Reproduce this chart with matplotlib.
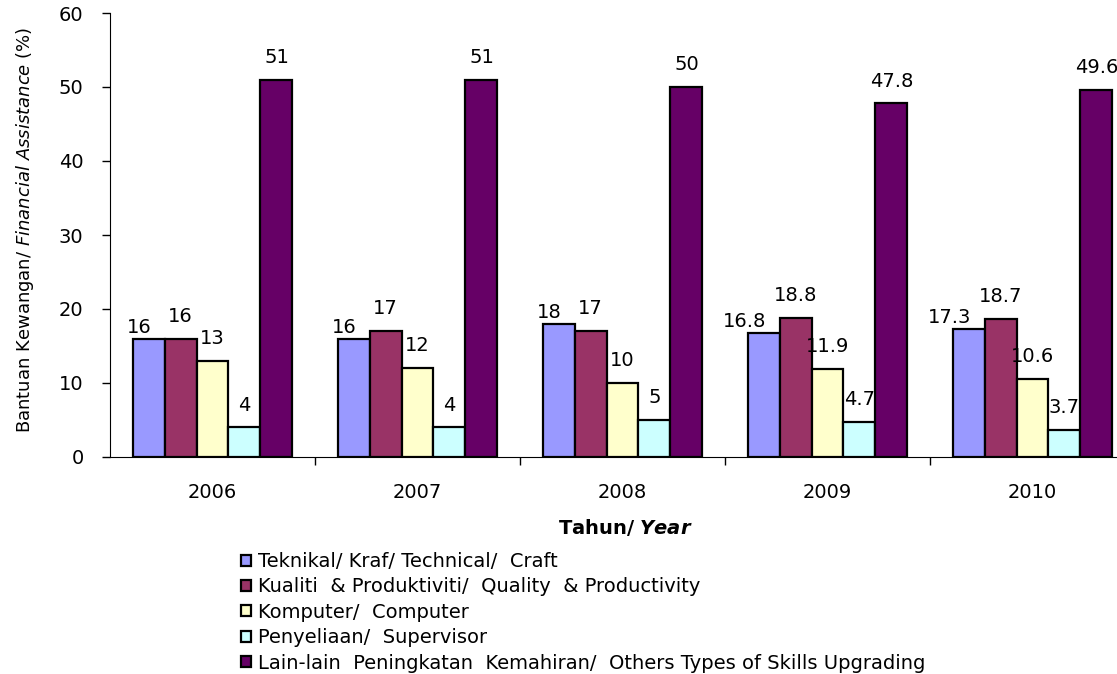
import matplotlib
matplotlib.use("Agg")
import matplotlib.pyplot as plt
import numpy as np

plt.rcParams['font.family'] = ['DejaVu Sans']
plt.rcParams['mathtext.fontset'] = 'custom'
plt.rcParams['mathtext.rm'] = 'DejaVu Sans'
plt.rcParams['mathtext.it'] = 'DejaVu Sans:italic'
plt.rcParams['mathtext.bf'] = 'DejaVu Sans:bold'
plt.rcParams['mathtext.bfit'] = 'DejaVu Sans:bold:italic'

# data
years = ['2006', '2007', '2008', '2009', '2010']
series_names = [
    'Teknikal/ Kraf/ Technical/  Craft',
    'Kualiti  & Produktiviti/  Quality  & Productivity',
    'Komputer/  Computer',
    'Penyeliaan/  Supervisor',
    'Lain-lain  Peningkatan  Kemahiran/  Others Types of Skills Upgrading',
]
technical = [16, 16, 18, 16.8, 17.3]
quality = [16, 17, 17, 18.8, 18.7]
computer = [13, 12, 10, 11.9, 10.6]
supervisor = [4, 4, 5, 4.7, 3.7]
others = [51, 51, 50, 47.8, 49.6]
label_text = [
    ['16', '16', '18', '16.8', '17.3'],
    ['16', '17', '17', '18.8', '18.7'],
    ['13', '12', '10', '11.9', '10.6'],
    ['4', '4', '5', '4.7', '3.7'],
    ['51', '51', '50', '47.8', '49.6'],
]
colors = ['#9999FF', '#993366', '#FFFFCC', '#CCFFFF', '#660066']

fig = plt.figure(figsize=(11.17, 6.74), dpi=100)
ax = fig.add_axes([110/1117, 1 - 457/674, 1025/1117, 444/674])

x = np.arange(len(years))
w = 0.156
all_series = [technical, quality, computer, supervisor, others]
for i, vals in enumerate(all_series):
    pos = x + (i - 2) * w
    ax.bar(pos, vals, width=w, color=colors[i], edgecolor='black',
           linewidth=1.6, label=series_names[i], zorder=2)
    for j, v in enumerate(vals):
        if i == 0:
            # first series labels sit left of the bar centre
            ax.annotate(label_text[i][j], (pos[j], v), xytext=(2, 8),
                        textcoords='offset points', ha='right', va='center',
                        fontsize=14)
        else:
            ax.annotate(label_text[i][j], (pos[j], v), xytext=(0, 16),
                        textcoords='offset points', ha='center', va='center',
                        fontsize=14)

ax.set_xlim(-0.5, 4.5)
ax.set_ylim(0, 60)
ax.set_yticks(range(0, 61, 10))
ax.tick_params(axis='y', labelsize=14, length=6, width=1, direction='out',
               pad=13)

# category separators as major ticks, year labels as minor ticks
ax.set_xticks([0.5, 1.5, 2.5, 3.5])
ax.set_xticklabels([])
ax.set_xticks(x, minor=True)
ax.set_xticklabels(years, minor=True)
ax.tick_params(axis='x', which='major', length=6, width=1, direction='out')
ax.tick_params(axis='x', which='minor', length=0, labelsize=14, pad=19)

ax.spines['top'].set_visible(False)
ax.spines['right'].set_visible(False)

fig.text(25/1117, 1 - 230/674,
         r'Bantuan Kewangan/ $\mathit{Financial\ Assistance}$ (%)',
         rotation=90, ha='center', va='center', fontsize=13)
fig.text(625/1117, 1 - 527/674, r'$\mathbf{Tahun/\ }\mathbfit{Year}$',
         ha='center', va='center', fontsize=14)

fig.legend(loc='upper left', bbox_to_anchor=(241/1117, 1 - 552/674),
           frameon=False, fontsize=14, handlelength=0.5, handleheight=0.5,
           handletextpad=0.4, labelspacing=0.33, borderpad=0, borderaxespad=0)

fig.savefig('out.png', dpi=100)
